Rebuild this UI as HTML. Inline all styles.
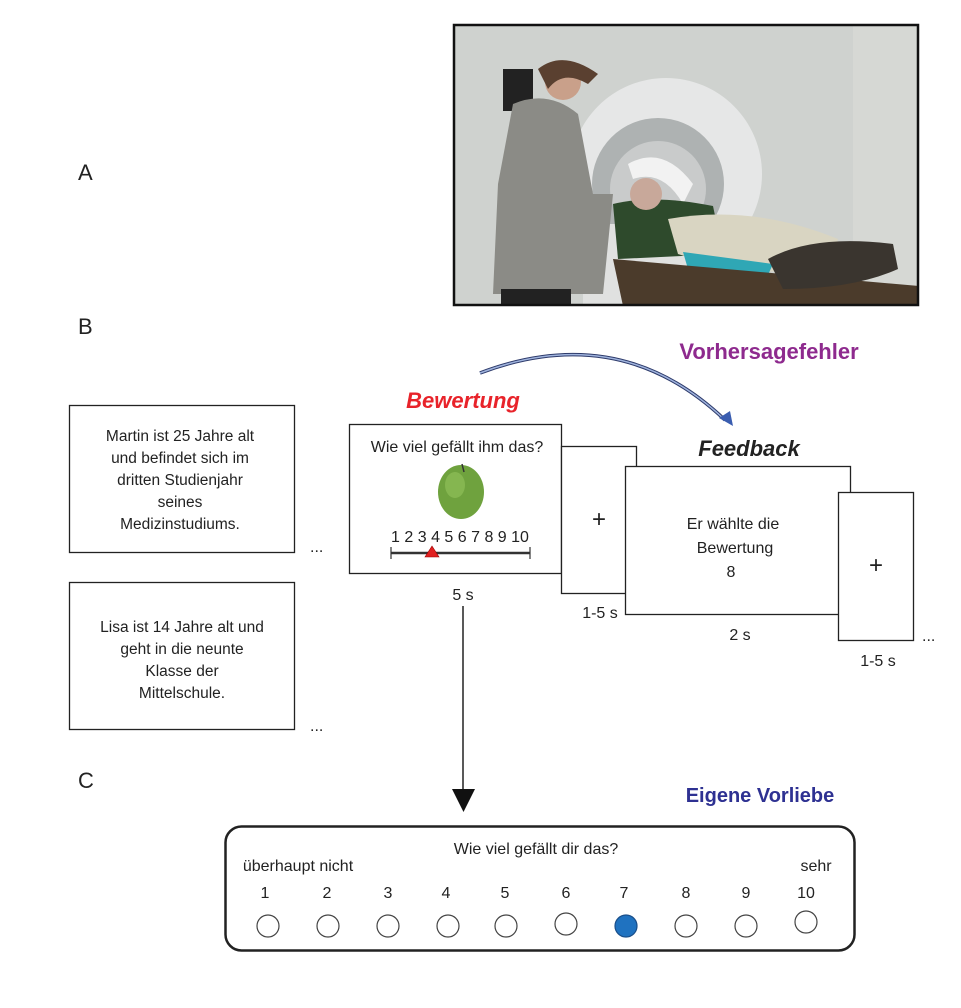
<!DOCTYPE html>
<html><head><meta charset="utf-8"><style>
html,body{margin:0;padding:0;background:#fff;}
svg{display:block;}
text{font-family:"Liberation Sans",sans-serif;}
</style></head><body>
<svg width="961" height="1008" viewBox="0 0 961 1008" xmlns="http://www.w3.org/2000/svg">
<rect width="961" height="1008" fill="#fff"/>
<!-- Photo -->
<g transform="translate(453,24)">
<rect x="0" y="0" width="466" height="282" fill="#cfd2cf"/>
<rect x="400" y="0" width="66" height="282" fill="#d6d8d4"/>
<rect x="50" y="45" width="30" height="42" fill="#222"/>
<circle cx="213" cy="150" r="96" fill="#e6e7e7"/>
<circle cx="205" cy="160" r="66" fill="#aeb2b2"/>
<circle cx="205" cy="165" r="48" fill="#c9cbcb"/>
<rect x="130" y="200" width="110" height="82" fill="#e0e1e0"/>
<path d="M175,140 Q210,120 240,160 L230,180 Q210,145 180,155 Z" fill="#f2f2f2"/>
<path d="M160,180 Q200,170 260,182 L270,230 L165,235 Z" fill="#2e4a2c"/>
<path d="M215,195 Q300,180 385,215 L380,245 Q300,255 225,230 Z" fill="#d9d5c2"/>
<path d="M230,228 L320,240 L310,262 L235,245 Z" fill="#2fa7b5"/>
<path d="M160,235 L466,262 L466,282 L170,282 Z" fill="#4b3b2b"/>
<path d="M315,235 Q360,210 440,220 L445,245 Q400,265 330,265 Z" fill="#3a352f"/>
<circle cx="193" cy="170" r="16" fill="#c8a89a"/>
<path d="M60,80 Q95,65 125,90 L140,170 L160,170 L150,270 L40,270 L45,160 Z" fill="#8b8b86"/>
<circle cx="110" cy="58" r="18" fill="#c9a08a"/>
<path d="M85,45 Q110,25 145,50 L135,60 Q110,45 95,65 Z" fill="#5a4030"/>
<rect x="48" y="265" width="70" height="17" fill="#222"/>
<rect x="1" y="1" width="464" height="280" fill="none" stroke="#111" stroke-width="2.5"/>
</g>
<text x="78" y="180" font-size="22" fill="#222">A</text>
<text x="78" y="334" font-size="22" fill="#222">B</text>
<text x="78" y="788" font-size="22" fill="#222">C</text>

<g font-size="15.5" fill="#222" text-anchor="middle">
<rect x="69.5" y="405.5" width="225" height="147" fill="#fff" stroke="#222" stroke-width="1.3"/>
<text x="180" y="441">Martin ist 25 Jahre alt</text>
<text x="180" y="463">und befindet sich im</text>
<text x="180" y="485">dritten Studienjahr</text>
<text x="180" y="507">seines</text>
<text x="180" y="529">Medizinstudiums.</text>
<rect x="69.5" y="582.5" width="225" height="147" fill="#fff" stroke="#222" stroke-width="1.3"/>
<text x="182" y="632">Lisa ist 14 Jahre alt und</text>
<text x="182" y="654">geht in die neunte</text>
<text x="182" y="676">Klasse der</text>
<text x="182" y="698">Mittelschule.</text>
</g>
<text x="310" y="552" font-size="16" fill="#222">...</text>
<text x="310" y="731" font-size="16" fill="#222">...</text>

<!-- curved arrow -->
<path d="M480,373 Q620,320 725,420" fill="none" stroke="#2d3a6a" stroke-width="3.5"/>
<path d="M480,373 Q620,320 725,420" fill="none" stroke="#9fb3dd" stroke-width="1.5"/>
<path d="M719,418 L733,426 L730,411 Z" fill="#3a5db0"/>

<text x="463" y="408" font-size="22" font-weight="bold" font-style="italic" fill="#e8232a" text-anchor="middle">Bewertung</text>
<text x="769" y="359" font-size="22" font-weight="bold" fill="#8e2a8e" text-anchor="middle">Vorhersagefehler</text>
<text x="749" y="456" font-size="22" font-weight="bold" font-style="italic" fill="#222" text-anchor="middle">Feedback</text>

<g fill="#222" font-size="16" text-anchor="middle">
<rect x="349.5" y="424.5" width="212" height="149" fill="#fff" stroke="#222" stroke-width="1.3"/>
<text x="457" y="452">Wie viel gefällt ihm das?</text>
<ellipse cx="461" cy="492" rx="23" ry="27" fill="#6fa23e"/>
<ellipse cx="455" cy="485" rx="10" ry="13" fill="#8fbf58" opacity="0.7"/>
<line x1="462" y1="464" x2="464" y2="472" stroke="#333" stroke-width="1.5"/>
<text x="460" y="542">1 2 3 4 5 6 7 8 9 10</text>
<line x1="391" y1="553" x2="530" y2="553" stroke="#333" stroke-width="2.5"/>
<line x1="391" y1="547" x2="391" y2="559" stroke="#333" stroke-width="1.2"/>
<line x1="530" y1="547" x2="530" y2="559" stroke="#333" stroke-width="1.2"/>
<path d="M425,557 L439,557 L432,546 Z" fill="#e02020" stroke="#900" stroke-width="0.6"/>
<text x="463" y="600">5 s</text>
<rect x="561.5" y="446.5" width="75" height="147" fill="#fff" stroke="#222" stroke-width="1.3"/>
<text x="599" y="527" font-size="24">+</text>
<text x="600" y="618">1-5 s</text>
<rect x="625.5" y="466.5" width="225" height="148" fill="#fff" stroke="#222" stroke-width="1.3"/>
<text x="733" y="529">Er wählte die</text>
<text x="735" y="553">Bewertung</text>
<text x="731" y="577">8</text>
<text x="740" y="640">2 s</text>
<rect x="838.5" y="492.5" width="75" height="148" fill="#fff" stroke="#222" stroke-width="1.3"/>
<text x="876" y="573" font-size="24">+</text>
<text x="878" y="666">1-5 s</text>
</g>
<text x="922" y="641" font-size="16" fill="#222">...</text>

<line x1="463" y1="606" x2="463" y2="792" stroke="#222" stroke-width="1.5"/>
<path d="M452,789 L475,789 L463.5,812 Z" fill="#111"/>

<text x="760" y="802" font-size="20" font-weight="bold" fill="#2e3192" text-anchor="middle">Eigene Vorliebe</text>

<rect x="225.5" y="826.5" width="629" height="124" rx="16" fill="#fff" stroke="#222" stroke-width="2.5"/>
<g font-size="16" fill="#222" text-anchor="middle">
<text x="536" y="854">Wie viel gefällt dir das?</text>
<text x="298" y="871">überhaupt nicht</text>
<text x="816" y="871">sehr</text>
<text x="265" y="898">1</text><text x="327" y="898">2</text><text x="388" y="898">3</text><text x="446" y="898">4</text><text x="505" y="898">5</text><text x="566" y="898">6</text><text x="624" y="898">7</text><text x="686" y="898">8</text><text x="746" y="898">9</text><text x="806" y="898">10</text>
</g>
<g fill="#fff" stroke="#444" stroke-width="1.2">
<circle cx="268" cy="926" r="11"/><circle cx="328" cy="926" r="11"/><circle cx="388" cy="926" r="11"/><circle cx="448" cy="926" r="11"/><circle cx="506" cy="926" r="11"/><circle cx="566" cy="924" r="11"/>
<circle cx="626" cy="926" r="11" fill="#1f72c0" stroke="#1a4f8a"/>
<circle cx="686" cy="926" r="11"/><circle cx="746" cy="926" r="11"/><circle cx="806" cy="922" r="11"/>
</g>
</svg>
</body></html>
